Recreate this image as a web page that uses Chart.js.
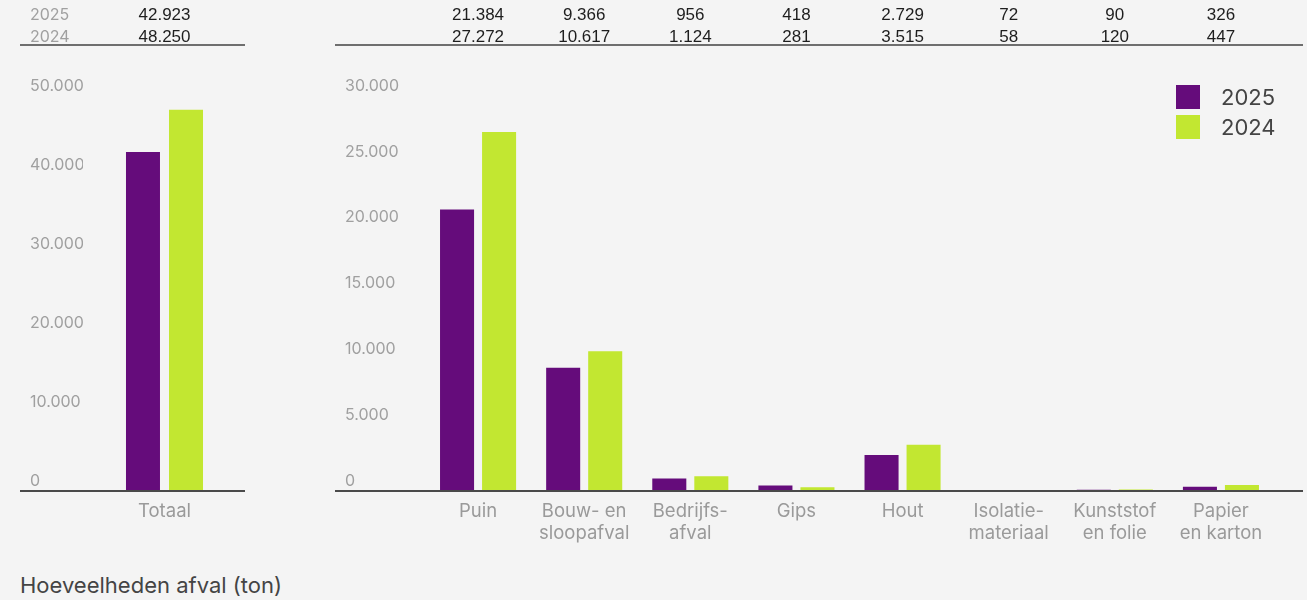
<!DOCTYPE html>
<html>
<head>
<meta charset="utf-8">
<title>Hoeveelheden afval (ton)</title>
<script src="https://cdn.jsdelivr.net/npm/chart.js@4.4.1/dist/chart.umd.min.js"></script>
<style>
    html, body { margin: 0; padding: 0; background: #f4f4f4; }
    body { width: 1307px; height: 600px; position: relative; overflow: hidden; font-family: Inter, "Noto Sans", sans-serif; }
    #total-wrap { position: absolute; left: 0; top: 0; width: 250px; height: 560px; }
    #detail-wrap { position: absolute; left: 330px; top: 0; width: 977px; height: 560px; }
    .legend { position: absolute; left: 1176px; top: 85px; font-size: 22px; color: #444; }
    .legend div { height: 30px; line-height: 24px; }
    .legend span { display: inline-block; width: 24px; height: 24px; vertical-align: top; margin-right: 21px; }
    .title { position: absolute; left: 20px; top: 571px; font-size: 22px; line-height: 28px; color: #444; }
</style>
</head>
<body>
<div id="total-wrap"><canvas id="total-chart" width="250" height="560"></canvas></div>
<div id="detail-wrap"><canvas id="detail-chart" width="977" height="560"></canvas></div>
<div class="legend">
    <div><span style="background:#650c7b"></span>2025</div>
    <div><span style="background:#c2e731"></span>2024</div>
</div>
<div class="title">Hoeveelheden afval (ton)</div>

<script>
(function () {
    "use strict";

    // Data
    var years = ["2025", "2024"];
    var totalLabels = ["Totaal"];
    var total2025 = [42923];
    var total2024 = [48250];
    var categories = [
        "Puin",
        ["Bouw- en", "sloopafval"],
        ["Bedrijfs-", "afval"],
        "Gips",
        "Hout",
        ["Isolatie-", "materiaal"],
        ["Kunststof", "en folie"],
        ["Papier", "en karton"]
    ];
    var values2025 = [21384, 9366, 956, 418, 2729, 72, 90, 326];
    var values2024 = [27272, 10617, 1124, 281, 3515, 58, 120, 447];
    var totalTicks = [0, 10000, 20000, 30000, 40000, 50000];
    var detailTicks = [0, 5000, 10000, 15000, 20000, 25000, 30000];

    var purple = "#650c7b";
    var green = "#c2e731";

    var fmt = function (v) {
        return String(v).replace(/\B(?=(\d{3})+(?!\d))/g, ".");
    };

    // Table above the bars + horizontal rules
    var tablePlugin = {
        id: "valueTable",
        afterDraw: function (chart, args, opts) {
            var ctx = chart.ctx;
            var x = chart.scales.x;
            ctx.save();
            ctx.textBaseline = "middle";
            if (opts.showYears) {
                ctx.font = "16px Inter";
                ctx.fillStyle = "#a0a0a0";
                ctx.textAlign = "left";
                ctx.fillText(years[0], 30, 15);
                ctx.fillText(years[1], 30, 37);
            }
            ctx.font = "17px 'Liberation Sans'";
            ctx.fillStyle = "#1e1e1e";
            ctx.textAlign = "center";
            var d0 = chart.data.datasets[0].data;
            var d1 = chart.data.datasets[1].data;
            for (var i = 0; i < d0.length; i++) {
                var cx = x.getPixelForValue(i);
                ctx.fillText(fmt(d0[i]), cx, 15);
                ctx.fillText(fmt(d1[i]), cx, 37);
            }
            ctx.strokeStyle = "#6e6e6e";
            ctx.lineWidth = 2;
            ctx.beginPath();
            ctx.moveTo(opts.lineFrom, 45);
            ctx.lineTo(opts.lineTo, 45);
            ctx.stroke();
            ctx.strokeStyle = "#4a4a4a";
            ctx.beginPath();
            ctx.moveTo(opts.lineFrom, chart.chartArea.bottom);
            ctx.lineTo(opts.lineTo, chart.chartArea.bottom);
            ctx.stroke();
            ctx.restore();
        }
    };

    var makeOptions = function (cfg) {
        return {
            responsive: false,
            animation: false,
            layout: { padding: { top: 96, left: cfg.padLeft, right: cfg.padRight, bottom: 0 } },
            plugins: {
                legend: { display: false },
                tooltip: { enabled: false },
                valueTable: cfg.table
            },
            scales: {
                x: {
                    grid: { display: false },
                    border: { display: false },
                    ticks: {
                        color: "#9a9a9a",
                        font: { family: "Inter", size: 18.5, lineHeight: 1.19 },
                        padding: 1,
                        maxRotation: 0,
                        autoSkip: false
                    },
                    afterFit: function (axis) { axis.height = 69; }
                },
                y: {
                    min: 0,
                    max: cfg.max,
                    grid: { display: false },
                    border: { display: false },
                    afterBuildTicks: function (axis) {
                        axis.ticks = cfg.ticks.map(function (v) { return { value: v }; });
                    },
                    ticks: {
                        color: "#a0a0a0",
                        font: { family: "Inter", size: 16 },
                        crossAlign: "far",
                        labelOffset: -10,
                        callback: function (v) { return fmt(v); }
                    },
                    afterFit: function (axis) { axis.width = cfg.yWidth; }
                }
            }
        };
    };

    // Totaal chart
    var ctx1 = document.getElementById("total-chart").getContext("2d");
    var myChart1 = new Chart(ctx1, {
        type: "bar",
        data: {
            labels: totalLabels,
            datasets: [{
                    label: years[0],
                    data: total2025,
                    backgroundColor: purple,
                    barPercentage: 0.79,
                    categoryPercentage: 0.528
                },
                {
                    label: years[1],
                    data: total2024,
                    backgroundColor: green,
                    barPercentage: 0.79,
                    categoryPercentage: 0.528
                }
            ]
        },
        options: makeOptions({
            padLeft: 30, padRight: 4, yWidth: 53, max: 50000, ticks: totalTicks,
            table: { showYears: true, lineFrom: 20, lineTo: 245 }
        }),
        plugins: [tablePlugin]
    });

    // Categories chart
    var ctx2 = document.getElementById("detail-chart").getContext("2d");
    var myChart2 = new Chart(ctx2, {
        type: "bar",
        data: {
            labels: categories,
            datasets: [{
                    label: years[0],
                    data: values2025,
                    backgroundColor: purple,
                    barPercentage: 0.81,
                    categoryPercentage: 0.792
                },
                {
                    label: years[1],
                    data: values2024,
                    backgroundColor: green,
                    barPercentage: 0.81,
                    categoryPercentage: 0.792
                }
            ]
        },
        options: makeOptions({
            padLeft: 15, padRight: 33, yWidth: 80, max: 30000, ticks: detailTicks,
            table: { showYears: false, lineFrom: 5, lineTo: 973 }
        }),
        plugins: [tablePlugin]
    });

})();
</script>
</body>
</html>
